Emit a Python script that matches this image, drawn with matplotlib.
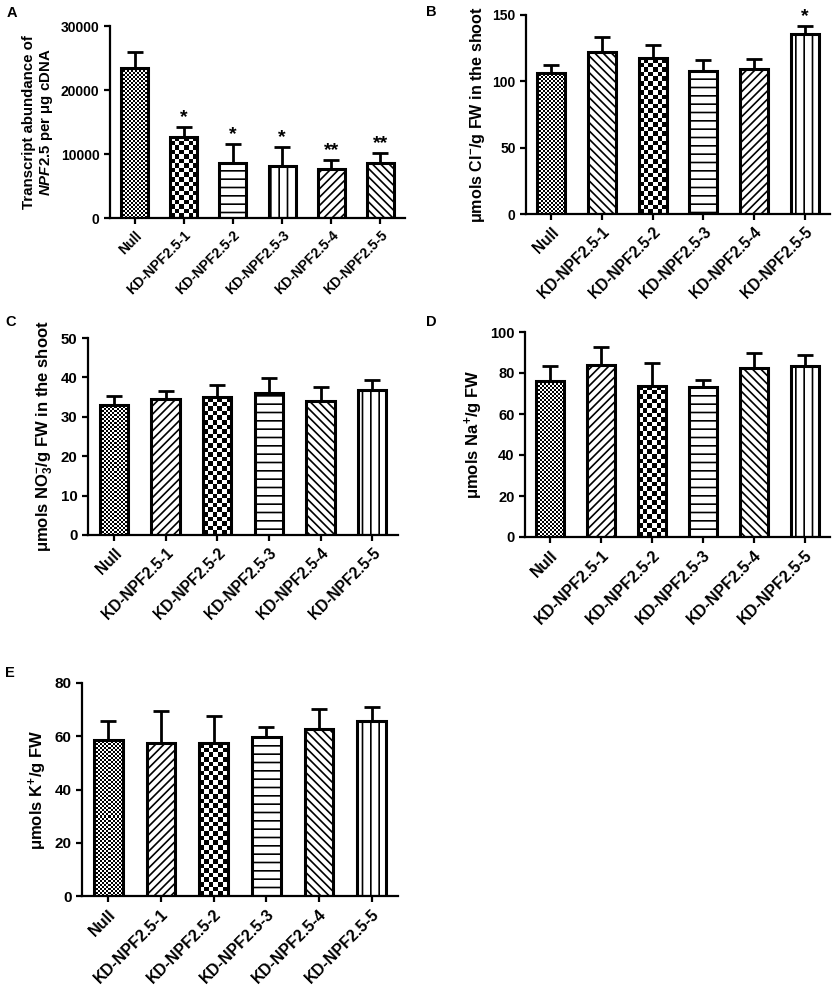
import numpy as np
import matplotlib
matplotlib.use('Agg')
import matplotlib.pyplot as plt

plt.rcParams['font.family'] = 'Liberation Sans'
plt.rcParams['font.weight'] = 'bold'
plt.rcParams['mathtext.fontset'] = 'custom'
plt.rcParams['mathtext.rm'] = 'Liberation Sans:bold'
plt.rcParams['mathtext.it'] = 'Liberation Sans:italic:bold'
plt.rcParams['mathtext.bf'] = 'Liberation Sans:bold'
plt.rcParams['hatch.linewidth'] = 1.2

lines = ['Null', 'KD-NPF2.5-1', 'KD-NPF2.5-2', 'KD-NPF2.5-3', 'KD-NPF2.5-4', 'KD-NPF2.5-5']

# A: transcript abundance
a_mean = [23400, 12700, 8600, 8200, 7600, 8600]
a_err = [2600, 1450, 2950, 2950, 1450, 1550]
a_stars = ['', '*', '*', '*', '**', '**']
# B: Cl- in shoot
b_mean = [106.5, 122.4, 117.3, 107.5, 109.3, 135.7]
b_err = [5.5, 11.3, 9.8, 8.5, 7.3, 6.3]
b_stars = ['', '', '', '', '', '*']
# C: NO3- in shoot
c_mean = [33.0, 34.6, 35.0, 36.0, 34.1, 36.8]
c_err = [2.4, 2.0, 3.0, 3.8, 3.4, 2.5]
# D: Na+
d_mean = [76.0, 83.8, 73.7, 73.3, 82.5, 83.3]
d_err = [7.5, 8.9, 11.4, 3.2, 7.5, 5.7]
# E: K+
e_mean = [58.7, 57.4, 57.4, 59.6, 62.8, 65.7]
e_err = [7.1, 12.2, 10.3, 3.7, 7.4, 5.3]

W, H = 836, 985
fig = plt.figure(figsize=(W / 100, H / 100), dpi=100)

FWD = '////'
BACK = '\\\\\\\\'


def checker_fill(ax, patch, cell):
    x0, y0 = patch.get_x(), patch.get_y()
    w, h = patch.get_width(), patch.get_height()
    p0 = ax.transData.transform((x0, y0))
    p1 = ax.transData.transform((x0 + w, y0 + h))
    nx = max(1, int(round((p1[0] - p0[0]) / cell)))
    ny = max(1, int(round((p1[1] - p0[1]) / cell)))
    grid = np.indices((ny, nx)).sum(axis=0) % 2
    im = ax.imshow(grid, extent=[x0, x0 + w, y0, y0 + h], cmap='gray',
                   interpolation='nearest', aspect='auto', origin='lower', zorder=1)
    im.set_clip_path(patch)


def panel(box, means, errs, fills, ylim, yticks, ylabel, letter, letter_xy,
          stars=None, xfs=11.3, yfs=10.5, lfs=12):
    left, top, right, bottom = box
    ax = fig.add_axes([left / W, 1 - bottom / H, (right - left) / W, (bottom - top) / H])
    x = np.arange(len(means))
    ax.set_xlim(-0.5, 5.5)
    ax.set_ylim(*ylim)
    bars = ax.bar(x, means, width=0.55, color='white', edgecolor='black',
                  linewidth=2.2, zorder=2)
    for b, f in zip(bars, fills):
        if f == 'dots':
            b.set_facecolor('none')
            checker_fill(ax, b, 2.0)
        elif f == 'check':
            b.set_facecolor('none')
            checker_fill(ax, b, 4.6)
        else:
            b.set_hatch(f)
    ax.errorbar(x, means, yerr=[np.zeros(len(means)), errs], fmt='none',
                ecolor='black', elinewidth=2, capsize=5.5, capthick=2, zorder=3)
    if stars:
        span = ylim[1] - ylim[0]
        for xi, m, e, s in zip(x, means, errs, stars):
            if s:
                ax.text(xi, m + e + span * 0.005, s, ha='center', va='bottom',
                        fontsize=14, fontweight='bold', clip_on=False)
    ax.set_xlim(-0.5, 5.5)
    ax.set_ylim(*ylim)
    ax.set_yticks(yticks)
    ax.set_xticks(x)
    ax.set_xticklabels(lines, rotation=45, ha='right', rotation_mode='anchor',
                       fontsize=xfs)
    for s in ['top', 'right']:
        ax.spines[s].set_visible(False)
    for s in ['left', 'bottom']:
        ax.spines[s].set_linewidth(1.6)
    ax.tick_params(direction='out', width=1.6, length=4)
    ax.tick_params(axis='y', labelsize=yfs)
    ax.set_ylabel(ylabel, fontsize=lfs, fontweight='bold')
    fig.text(letter_xy[0] / W, 1 - letter_xy[1] / H, letter, fontsize=10.5,
             fontweight='bold', va='center', ha='left')
    return ax


panel((110, 26, 405, 218), a_mean, a_err,
      ['dots', 'check', '--', '||', FWD, BACK],
      (0, 30000), [0, 10000, 20000, 30000],
      'Transcript abundance of\n$\\mathit{NPF2.5}$ per \u03bcg cDNA',
      'A', (7, 13), a_stars, xfs=10, yfs=10, lfs=10.8)

panel((526, 15, 830, 214), b_mean, b_err,
      ['dots', BACK, 'check', '--', FWD, '||'],
      (0, 150), [0, 50, 100, 150],
      '\u03bcmols Cl$^{-}$/g FW in the shoot',
      'B', (426, 12), b_stars, xfs=11.2, yfs=10, lfs=11.6)

panel((88, 338, 398, 535), c_mean, c_err,
      ['dots', FWD, 'check', '--', BACK, '||'],
      (0, 50), [0, 10, 20, 30, 40, 50],
      '\u03bcmols NO$_3^{-}$/g FW in the shoot',
      'C', (5, 322), xfs=11.2, yfs=10.8, lfs=12)

panel((525, 332, 830, 537), d_mean, d_err,
      ['dots', FWD, 'check', '--', BACK, '||'],
      (0, 100), [0, 20, 40, 60, 80, 100],
      '\u03bcmols Na$^{+}$/g FW',
      'D', (426, 322), xfs=11.6, yfs=10.5, lfs=12)

panel((82, 683, 398, 896), e_mean, e_err,
      ['dots', FWD, 'check', '--', BACK, '||'],
      (0, 80), [0, 20, 40, 60, 80],
      '\u03bcmols K$^{+}$/g FW',
      'E', (5, 673), xfs=11.6, yfs=11, lfs=12)

fig.savefig('out.png', dpi=100)
